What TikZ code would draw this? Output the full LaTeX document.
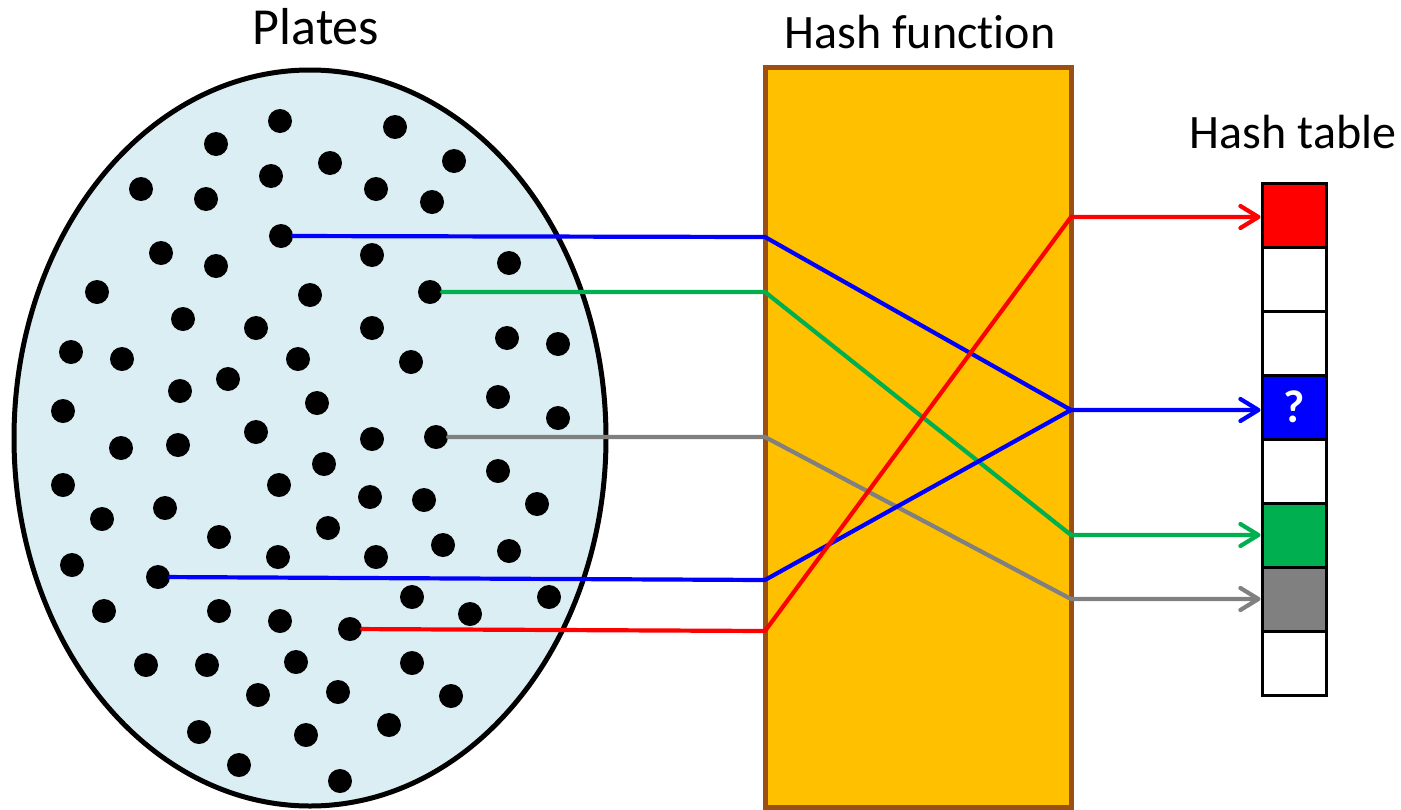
\documentclass[tikz,border=0pt]{standalone}
\usepackage{fontspec}
\setmainfont{Carlito}[Ligatures=NoCommon]
\usetikzlibrary{arrows.meta,shapes.geometric}
\definecolor{plate}{HTML}{DAEEF3}
\definecolor{hashfill}{HTML}{FFC000}
\definecolor{hashdraw}{HTML}{9C4F12}
\definecolor{cblue}{HTML}{0000FF}
\definecolor{cgreen}{HTML}{00B050}
\definecolor{cred}{HTML}{FF0000}
\definecolor{cgray}{HTML}{808080}
\begin{document}
\begin{tikzpicture}[x=1pt,y=-1pt,
  dot/.style={circle,fill=black,inner sep=0pt,minimum size=24pt},
  cell/.style={draw=black,line width=3pt,minimum width=64pt,minimum height=64pt,inner sep=0pt},
  link/.style={line width=4.2pt,line join=round,line cap=round},
  tipped/.style={-{Straight Barb[length=18pt,width=22pt,round]}},
  ttl/.style={font=\fontsize{48}{56}\selectfont,anchor=base,inner sep=0pt}]
\useasboundingbox (0,0) rectangle (1401,809);
% plates
\node[ellipse,draw=black,line width=5pt,fill=plate,minimum width=592pt,minimum height=736pt,inner sep=0pt] (plates) at (310,438) {};
% hash function
\node[draw=hashdraw,fill=hashfill,line width=5pt,minimum width=306pt,minimum height=740pt,inner sep=0pt] (hf) at (918,437) {};
% titles
\node[ttl,font=\fontsize{52}{60}\selectfont] (tplates) at (316,44) {Plates};
\node[ttl] (thf) at (920,48) {Hash function};
\node[ttl] (tht) at (1293,148) {Hash table};
% dots
\foreach \x/\y [count=\i] in {280/121,395/127,216/144,330/163,454/161,271/176,141/189,206/199,376/189,432/202,
  161/253,216/266,372/255,509/263,97/292,310/295,183/319,256/328,372/328,507/338,558/344,
  71/352,122/359,298/359,411/362,228/379,180/391,317/403,498/397,63/411,558/418,
  256/432,372/439,121/448,178/445,324/464,498/471,63/485,279/485,370/497,424/500,537/504,
  102/519,165/508,219/537,328/528,278/557,376/557,443/545,509/551,72/565,
  412/597,549/597,104/611,219/611,280/621,470/614,146/665,207/665,296/662,412/663,
  258/695,338/692,451/696,199/732,306/735,389/725,239/765,340/781}
  \node[dot] (d\i) at (\x,\y) {};
\node[dot] (sb1) at (281,236) {};
\node[dot] (sg) at (430,292) {};
\node[dot] (sgr) at (436,437) {};
\node[dot] (sb2) at (158,577) {};
\node[dot] (sr) at (350,629) {};
% hash table
\node[cell,fill=cred] (c1) at (1294,215) {};
\node[cell,fill=white] (c2) at (1294,279) {};
\node[cell,fill=white] (c3) at (1294,343) {};
\node[cell,fill=cblue,text=white,font=\bfseries\fontsize{46}{50}\selectfont] (c4) at (1294,407) {?};
\node[cell,fill=white] (c5) at (1294,471) {};
\node[cell,fill=cgreen] (c6) at (1294,535) {};
\node[cell,fill=cgray] (c7) at (1294,599) {};
\node[cell,fill=white] (c8) at (1294,663) {};
% junctions
\coordinate (b1in) at (765,237);
\coordinate (gin) at (765,292);
\coordinate (grin) at (765,437);
\coordinate (b2in) at (765,580);
\coordinate (rin) at (765,631);
\coordinate (rout) at (1071,217);
\coordinate (bout) at (1071,410);
\coordinate (gout) at (1071,535);
\coordinate (grout) at (1071,599);
% connectors
\draw[link,cgray,tipped] (sgr) -- (grin) -- (grout) -- (grout -| c7.west);
\draw[link,cgreen,tipped] (sg) -- (gin) -- (gout) -- (gout -| c6.west);
\draw[link,cblue,tipped] (sb1) -- (b1in) -- (bout) -- (bout -| c4.west);
\draw[link,cblue] (sb2) -- (b2in) -- (bout);
\draw[link,cred,tipped] (sr) -- (rin) -- (rout) -- (rout -| c1.west);
\end{tikzpicture}
\end{document}
